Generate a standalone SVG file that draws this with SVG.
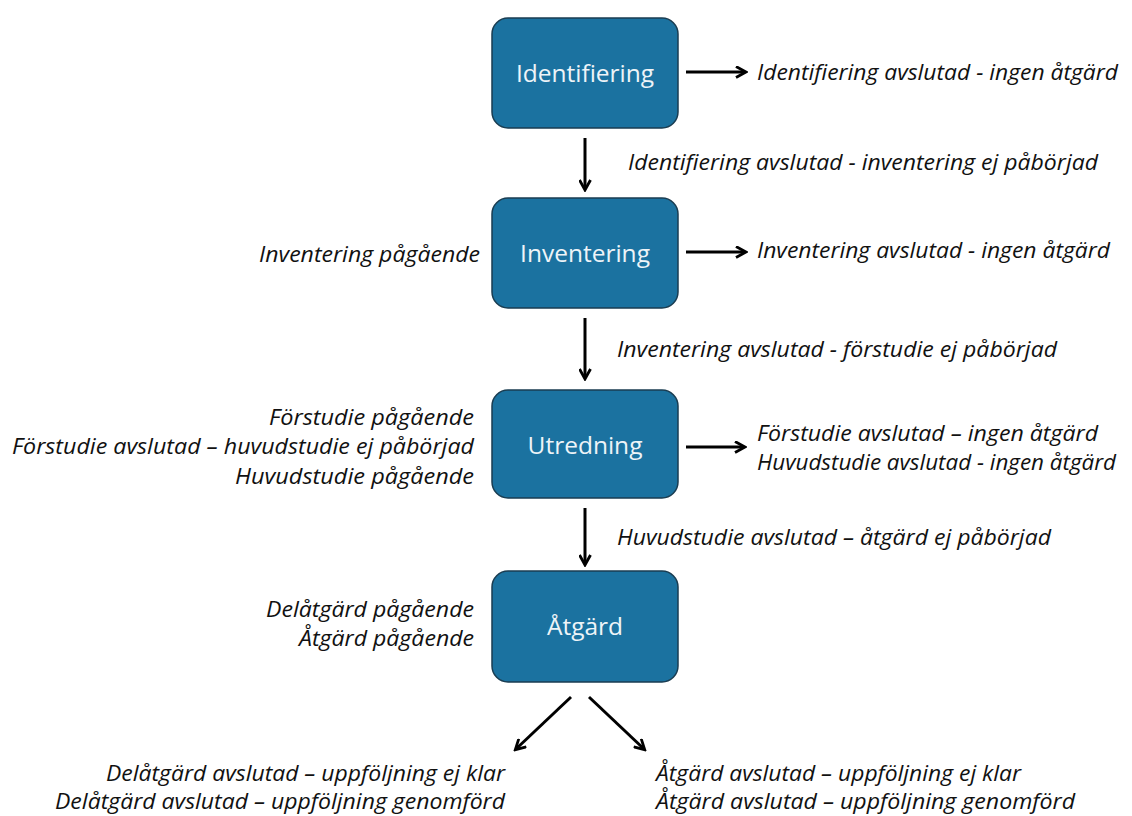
<svg xmlns="http://www.w3.org/2000/svg" width="1132" height="816" viewBox="0 0 1132 816">
<defs>
<marker id="ah" markerWidth="13" markerHeight="13" refX="10" refY="6.5" orient="auto" markerUnits="userSpaceOnUse" viewBox="0 0 13 13">
<path d="M1,1 L11,6.5 L1,12" fill="none" stroke="#000" stroke-width="2.8"/>
</marker>
</defs>
<style>
.box{fill:#1b72a0;stroke:#1a3d52;stroke-width:1.5}
.bt{font-family:"Open Sans","Noto Sans",sans-serif;font-size:24.5px;fill:#eef4f8;text-anchor:middle}
.lb{font-family:"Open Sans","Noto Sans",sans-serif;font-size:21px;font-style:italic;fill:#111}
.r{text-anchor:end}
.c{stroke:#000;stroke-width:3;fill:none;marker-end:url(#ah)}
</style>
<rect width="1132" height="816" fill="#fff"/>
<g id="n-identifiering"><rect class="box" x="492" y="18" width="186" height="110" rx="16"/><text class="bt" x="585" y="82">Identifiering</text></g>
<g id="n-inventering"><rect class="box" x="492" y="198" width="186" height="110" rx="16"/><text class="bt" x="585" y="262">Inventering</text></g>
<g id="n-utredning"><rect class="box" x="492" y="390" width="186" height="108" rx="16"/><text class="bt" x="585" y="454">Utredning</text></g>
<g id="n-atgard"><rect class="box" x="492" y="571" width="186" height="111" rx="16"/><text class="bt" x="585" y="635">Åtgärd</text></g>
<g id="connectors">
<line class="c" x1="686" y1="72" x2="745" y2="72"/>
<line class="c" x1="585" y1="138" x2="585" y2="189"/>
<line class="c" x1="686" y1="252" x2="745" y2="252"/>
<line class="c" x1="585" y1="318" x2="585" y2="378"/>
<line class="c" x1="686" y1="447" x2="744" y2="447"/>
<line class="c" x1="585" y1="508" x2="585" y2="564"/>
<line class="c" x1="571" y1="697" x2="516" y2="749"/>
<line class="c" x1="589" y1="697" x2="644" y2="749"/>
</g>
<g id="labels">
<text class="lb" x="757" y="80" textLength="361" lengthAdjust="spacingAndGlyphs">Identifiering avslutad - ingen åtgärd</text>
<text class="lb" x="628" y="170" textLength="470" lengthAdjust="spacingAndGlyphs">Identifiering avslutad - inventering ej påbörjad</text>
<text class="lb r" x="480" y="262" textLength="221" lengthAdjust="spacingAndGlyphs">Inventering pågående</text>
<text class="lb" x="757" y="258" textLength="353" lengthAdjust="spacingAndGlyphs">Inventering avslutad - ingen åtgärd</text>
<text class="lb" x="617" y="357" textLength="440" lengthAdjust="spacingAndGlyphs">Inventering avslutad - förstudie ej påbörjad</text>
<text class="lb r" x="474" y="425" textLength="205" lengthAdjust="spacingAndGlyphs">Förstudie pågående</text>
<text class="lb r" x="474" y="454" textLength="462" lengthAdjust="spacingAndGlyphs">Förstudie avslutad – huvudstudie ej påbörjad</text>
<text class="lb r" x="474" y="484" textLength="239" lengthAdjust="spacingAndGlyphs">Huvudstudie pågående</text>
<text class="lb" x="757" y="441" textLength="341" lengthAdjust="spacingAndGlyphs">Förstudie avslutad – ingen åtgärd</text>
<text class="lb" x="757" y="470" textLength="359" lengthAdjust="spacingAndGlyphs">Huvudstudie avslutad - ingen åtgärd</text>
<text class="lb" x="617" y="545" textLength="434" lengthAdjust="spacingAndGlyphs">Huvudstudie avslutad – åtgärd ej påbörjad</text>
<text class="lb r" x="474" y="617" textLength="208" lengthAdjust="spacingAndGlyphs">Delåtgärd pågående</text>
<text class="lb r" x="474" y="646" textLength="175" lengthAdjust="spacingAndGlyphs">Åtgärd pågående</text>
<text class="lb r" x="505" y="781" textLength="399" lengthAdjust="spacingAndGlyphs">Delåtgärd avslutad – uppföljning ej klar</text>
<text class="lb r" x="505" y="809" textLength="450" lengthAdjust="spacingAndGlyphs">Delåtgärd avslutad – uppföljning genomförd</text>
<text class="lb" x="656" y="781" textLength="365" lengthAdjust="spacingAndGlyphs">Åtgärd avslutad – uppföljning ej klar</text>
<text class="lb" x="656" y="809" textLength="419" lengthAdjust="spacingAndGlyphs">Åtgärd avslutad – uppföljning genomförd</text>
</g>
</svg>
